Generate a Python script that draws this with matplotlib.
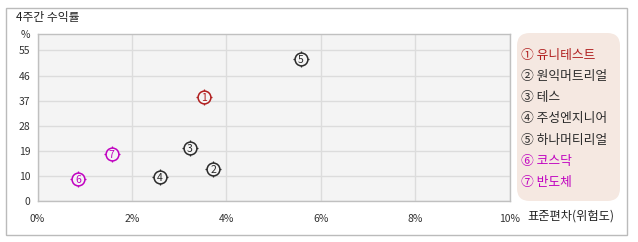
import matplotlib
matplotlib.use("Agg")
import matplotlib.pyplot as plt
from matplotlib.patches import FancyBboxPatch, Rectangle

plt.rcParams['font.family'] = ['Noto Sans CJK KR', 'DejaVu Sans']

# ---- data ----
names = ["유니테스트", "원익머트리얼", "테스", "주성엔지니어", "하나머티리얼", "코스닥", "반도체"]
circled = ["①", "②", "③", "④", "⑤", "⑥", "⑦"]
std_dev = [3.53, 3.72, 3.23, 2.59, 5.58, 0.86, 1.57]      # 표준편차 (%)
returns = [38.1, 11.7, 19.2, 8.6, 51.8, 7.9, 17.0]       # 4주간 수익률 (%)
colors = ["#b01e1e", "#2a2a2a", "#2a2a2a", "#2a2a2a", "#2a2a2a", "#c000c0", "#c000c0"]
x_ticks = [0, 2, 4, 6, 8, 10]
x_tick_labels = ["0%", "2%", "4%", "6%", "8%", "10%"]
y_tick_labels = ["0", "10", "19", "28", "37", "46", "55"]

W, H = 638, 242
fig = plt.figure(figsize=(W / 100, H / 100), dpi=100)
fig.patch.set_facecolor("white")

# outer border
fig.patches.append(Rectangle((6 / W, 1 - 235 / H), (627 - 6) / W, (235 - 8) / H,
                             transform=fig.transFigure, fill=False,
                             edgecolor="#bbbbbb", linewidth=1.0))

fig.text(16 / W, 1 - 18 / H, "4주간 수익률", fontsize=8.5, color="#222222",
         ha="left", va="center")

ax = fig.add_axes([37.5 / W, 1 - 201 / H, (509.5 - 37.5) / W, (201 - 34) / H])
ax.set_facecolor("#f4f4f4")
ax.set_xlim(0, 10)
ax.set_ylim(0, 61)
ax.set_xticks(x_ticks)
ax.set_xticklabels(x_tick_labels)
ytick_pos = [i * 55 / 6 for i in range(len(y_tick_labels))]
ax.set_yticks(ytick_pos)
ax.set_yticklabels(y_tick_labels)
ax.tick_params(length=0, labelsize=7.5, colors="#333333")
ax.tick_params(axis="x", pad=9)
ax.tick_params(axis="y", pad=5)
ax.grid(True, color="#dcdcdc", linewidth=1.0)
ax.set_axisbelow(True)
for s in ax.spines.values():
    s.set_color("#c0c0c0")
    s.set_linewidth(1.0)

for i in range(len(names)):
    ax.scatter(std_dev[i], returns[i], marker="+", s=125, linewidths=0.9,
               color=colors[i], zorder=3)
    ax.scatter(std_dev[i], returns[i], marker="o", s=85, facecolor="#f4f4f4",
               edgecolor=colors[i], linewidths=1.1, zorder=4)
    ax.text(std_dev[i], returns[i], str(i + 1), color=colors[i], fontsize=7.5,
            ha="center", va="center_baseline", zorder=5)

fig.text(25 / W, 1 - 35 / H, "%", fontsize=7.5, color="#333333", ha="center", va="center")
fig.text(527 / W, 1 - 216 / H, "표준편차(위험도)", fontsize=8.8, color="#222222",
         ha="left", va="center")

# legend box
lg = FancyBboxPatch((517 / W, 1 - 201 / H), (620 - 517) / W, (201 - 33) / H,
                    boxstyle="round,pad=0,rounding_size=0.02",
                    transform=fig.transFigure, facecolor="#f5e8e1",
                    edgecolor="none", mutation_aspect=W / H)
fig.patches.append(lg)
for i in range(len(names)):
    y = 55 + i * 21.3
    fig.text(521 / W, 1 - y / H, circled[i] + " " + names[i], fontsize=9.2,
             color=colors[i], ha="left", va="center")

fig.savefig("out.png", dpi=100)
